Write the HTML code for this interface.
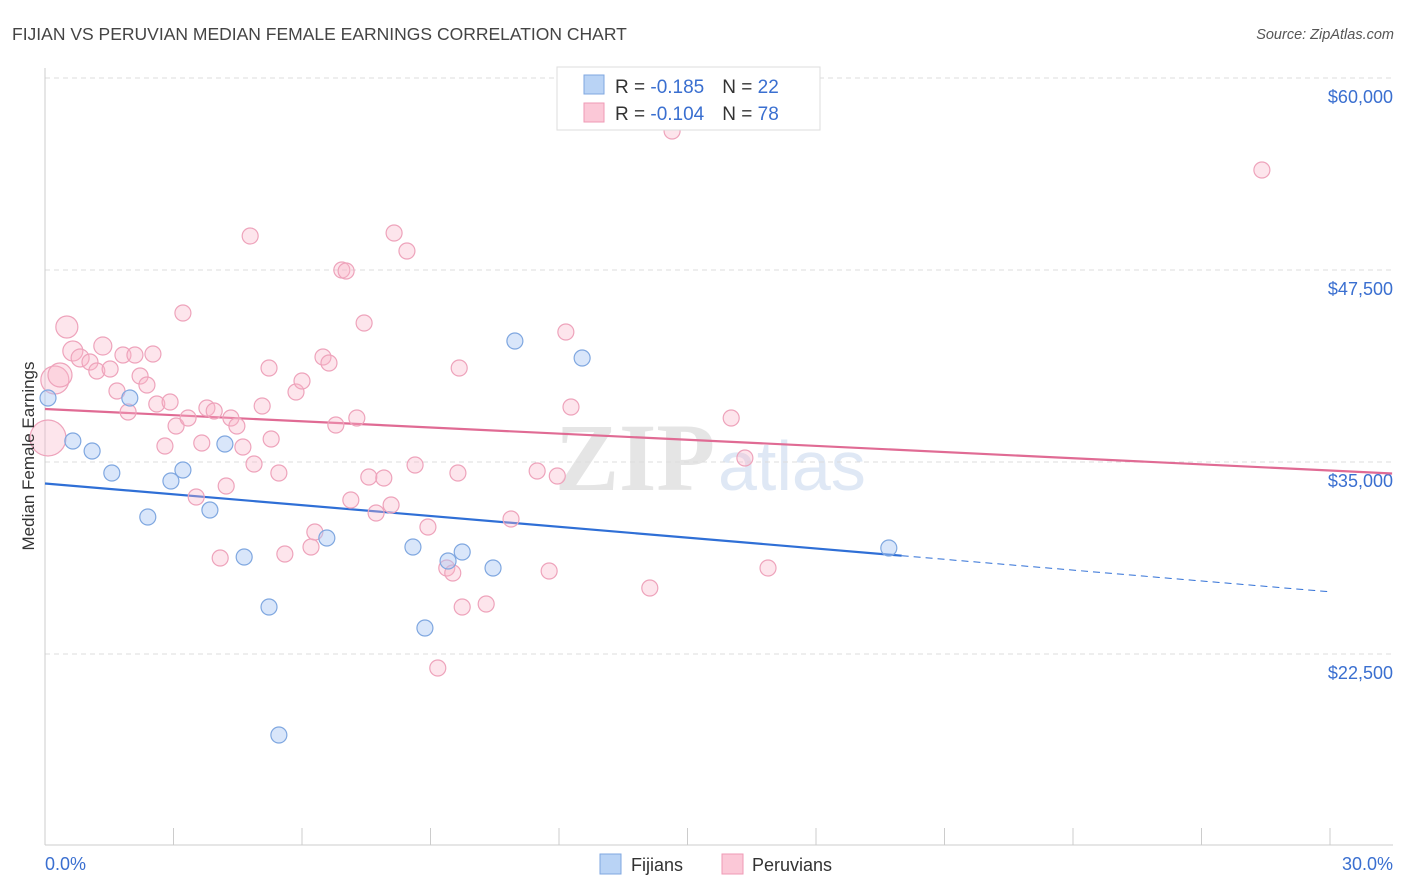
<!DOCTYPE html>
<html><head><meta charset="utf-8"><style>
body{margin:0;background:#fff;font-family:"Liberation Sans",sans-serif;}
svg{display:block}
</style></head><body>
<svg id="chart" width="1406" height="892" viewBox="0 0 1406 892" xmlns="http://www.w3.org/2000/svg">
<text x="12" y="40" font-size="17.5" fill="#444">FIJIAN VS PERUVIAN MEDIAN FEMALE EARNINGS CORRELATION CHART</text>
<text x="1394" y="39" font-size="14.5" fill="#555" text-anchor="end" font-style="italic">Source: ZipAtlas.com</text>
<text x="555" y="490" font-size="96" fill="#e5e5e5" font-family="Liberation Serif" font-weight="bold">ZIP</text>
<text x="718" y="490" font-size="70" fill="#dfe8f5">atlas</text>
<g id="grid"></g>
<g id="axes"></g>
<g id="lines"></g>
<g id="pts"></g>
<text transform="translate(34,456) rotate(-90)" font-size="17" fill="#333" text-anchor="middle">Median Female Earnings</text>
<g>
<rect x="557" y="67" width="263" height="63" fill="#fff" stroke="#ddd"/>
<rect x="584" y="75" width="20" height="19" fill="#b9d3f5" stroke="#7fa7e0"/>
<rect x="584" y="103" width="20" height="19" fill="#fbc8d7" stroke="#ef9ab5"/>
<text x="615" y="93" font-size="19" fill="#333">R = <tspan fill="#3a6fd0"> -0.185</tspan><tspan dx="18">N = </tspan><tspan fill="#3a6fd0">22</tspan></text>
<text x="615" y="120" font-size="19" fill="#333">R = <tspan fill="#3a6fd0">-0.104</tspan><tspan dx="18">N = </tspan><tspan fill="#3a6fd0">78</tspan></text>
</g>
<g>
<rect x="600" y="854" width="21" height="20" fill="#b9d3f5" stroke="#7fa7e0"/>
<text x="631" y="871" font-size="18" fill="#333">Fijians</text>
<rect x="722" y="854" width="21" height="20" fill="#fbc8d7" stroke="#ef9ab5"/>
<text x="752" y="871" font-size="18" fill="#333">Peruvians</text>
</g>
</svg>
<script>
const yTicks=[22500,35000,47500,60000];
const yTickLabels=["$22,500","$35,000","$47,500","$60,000"];
const xTickLabels=["0.0%","30.0%"];
const fijX=[0.07,0.65,1.10,1.56,1.98,2.40,2.94,3.22,3.85,4.20,4.65,5.23,5.46,6.58,8.59,8.87,9.41,9.74,10.46,10.97,12.54,19.70];
const fijY=[39167,36367,35716,34284,39167,31419,33763,34479,31875,36172,28815,25560,17227,30052,29466,24193,28555,29141,28099,42878,41771,29401];
const perX=[0.07,0.23,0.35,0.51,0.65,0.82,1.05,1.21,1.35,1.52,1.68,1.82,1.94,2.10,2.22,2.38,2.52,2.61,2.80,2.92,3.06,3.22,3.34,3.53,3.66,3.78,3.95,4.09,4.23,4.34,4.48,4.62,4.79,4.88,5.07,5.23,5.28,5.46,5.60,5.86,6.00,6.21,6.30,6.49,6.63,6.79,6.93,7.03,7.14,7.28,7.45,7.56,7.73,7.91,8.08,8.15,8.45,8.64,8.94,9.17,9.38,9.52,9.64,9.74,9.67,10.30,10.88,11.49,11.77,11.96,12.16,12.28,14.12,14.64,16.02,16.34,16.88,28.41];
const perY=[36563,40339,40664,43789,42227,41771,41510,40925,42552,41055,39623,41966,38255,41966,40599,40013,42031,38776,36042,38906,37344,44701,37865,32722,36237,38516,38320,28750,33438,37865,37344,35977,49714,34870,38646,41120,36497,34284,29010,39557,40273,29466,30443,41836,41445,37409,47500,47435,32526,37865,44049,34023,31680,33958,32201,49909,48737,34805,30768,21589,28099,27773,34284,25560,41120,25755,31289,34414,27904,34088,43464,38581,26797,56549,37865,35261,28099,54010];
const perR=[18,14,12,11,10,9,8,8,9,8,8,8,8,8,8,8,8,8,8,8,8,8,8,8,8,8,8,8,8,8,8,8,8,8,8,8,8,8,8,8,8,8,8,8,8,8,8,8,8,8,8,8,8,8,8,8,8,8,8,8,8,8,8,8,8,8,8,8,8,8,8,8,8,8,8,8,8,8];
const fijTrend=[33600,-0.235*1000]; // intercept, slope per %
const perTrend=[38450,-0.1335*1000];
const NS='http://www.w3.org/2000/svg';
const sx=v=>45+v/30*1285, sy=v=>78+(60000-v)/12500*192;
function mk(parent,tag,attrs){const e=document.createElementNS(NS,tag);for(const k in attrs)e.setAttribute(k,attrs[k]);document.getElementById(parent).appendChild(e);return e;}
yTicks.forEach((t,i)=>{
 const g=mk('grid','line',{x1:45,x2:1393,y1:sy(t),y2:sy(t),stroke:'#ddd','stroke-dasharray':'5,4'});
 
 
 const tx=mk('axes','text',{x:1393,y:sy(t)+25,'font-size':18,fill:'#3a6fd0','text-anchor':'end'});
 tx.textContent=yTickLabels[i];
 
 
});
let a=mk('axes','line',{x1:45,x2:45,y1:68,y2:845,stroke:'#ccc'});

a=mk('axes','line',{x1:45,x2:1393,y1:845,y2:845,stroke:'#ccc'});

for(let i=0;i<=10;i++){const l=mk('axes','line',{x1:sx(i*3),x2:sx(i*3),y1:828,y2:845,stroke:'#ccc'});
 
 }
let t=mk('axes','text',{x:45,y:870,'font-size':18,fill:'#3a6fd0'});t.textContent=xTickLabels[0];

t=mk('axes','text',{x:1393,y:870,'font-size':18,fill:'#3a6fd0','text-anchor':'end'});t.textContent=xTickLabels[1];

perX.forEach((x,i)=>{const c=mk('pts','circle',{cx:sx(x),cy:sy(perY[i]),r:perR[i],fill:'rgba(248,180,200,0.35)',stroke:'#eea3bb','stroke-width':1.2});
 
 });
fijX.forEach((x,i)=>{const c=mk('pts','circle',{cx:sx(x),cy:sy(fijY[i]),r:8,fill:'rgba(170,200,245,0.45)',stroke:'#7fa7e0','stroke-width':1.2});
 
 });
const fy=x=>fijTrend[0]+fijTrend[1]*x, py=x=>perTrend[0]+perTrend[1]*x;
let l=mk('lines','line',{x1:sx(0),y1:sy(fy(0)),x2:sx(20),y2:sy(fy(20)),stroke:'#2f6fd6','stroke-width':2.2});

l=mk('lines','line',{x1:sx(20),y1:sy(fy(20)),x2:sx(30),y2:sy(fy(30)),stroke:'#2f6fd6','stroke-width':1,'stroke-dasharray':'7,5'});

l=mk('lines','line',{x1:sx(0),y1:sy(py(0)),x2:sx(31.45),y2:sy(py(31.45)),stroke:'#e06b94','stroke-width':2.2});

</script>
</body></html>
